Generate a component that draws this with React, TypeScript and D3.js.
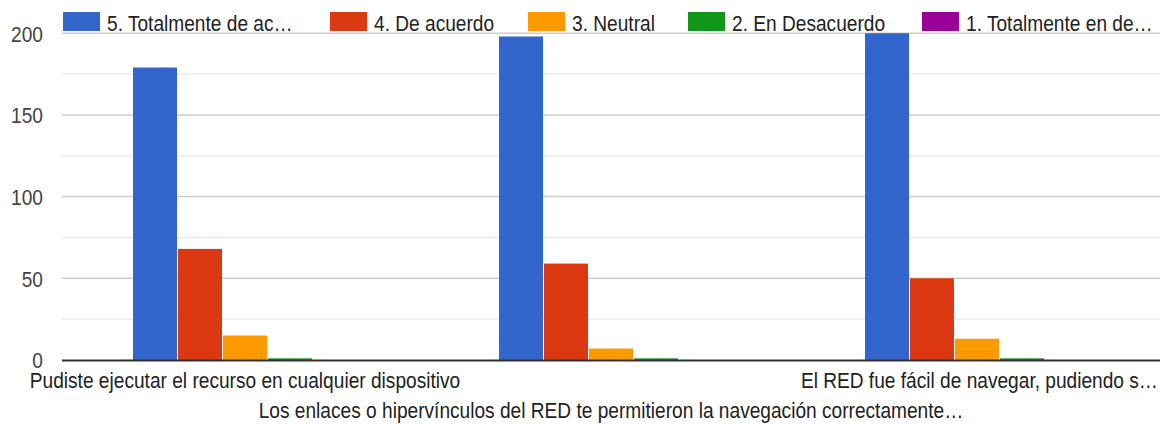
import React from "react";
import * as d3 from "d3";

const categories = [
  "Pudiste ejecutar el recurso en cualquier dispositivo",
  "Los enlaces o hipervínculos del RED te permitieron la navegación correctamente…",
  "El RED fue fácil de navegar, pudiendo s…",
];
const seriesNames = [
  "5. Totalmente de ac…",
  "4. De acuerdo",
  "3. Neutral",
  "2. En Desacuerdo",
  "1. Totalmente en de…",
];
const colors = ["#3366cc", "#dc3912", "#ff9900", "#109618", "#990099"];
const totalmenteDeAcuerdo = [179, 198, 200];
const deAcuerdo = [68, 59, 50];
const neutral = [15, 7, 13];
const enDesacuerdo = [1, 1, 1];
const totalmenteEnDesacuerdo = [0, 0, 0];
const seriesValues = [totalmenteDeAcuerdo, deAcuerdo, neutral, enDesacuerdo, totalmenteEnDesacuerdo];
const yTicks = [0, 50, 100, 150, 200];
const yMinorTicks = [25, 75, 125, 175];

const W = 1164;
const H = 424;
const left = 62;
const right = 1160;
const top = 33.2;
const bottom = 360;
const SX = 0.85;
const FONT = "'Liberation Sans', Arial, sans-serif";
const FS = 22.5;

const legendSwatchX = [63, 330, 528, 688, 922];

function T({ x, y, anchor = "start", fill = "#222", size = FS, children }: any) {
  return (
    <g transform={`translate(${x},${y}) scale(${SX},1)`}>
      <text x={0} y={0} textAnchor={anchor} fill={fill} fontSize={size} fontFamily={FONT}>
        {children}
      </text>
    </g>
  );
}

export default function App() {
  const x0 = d3.scaleBand<number>().domain(d3.range(categories.length)).range([left, right]).padding(0);
  const step = 45;
  const outer = (x0.bandwidth() / step - seriesNames.length) / 2;
  const x1 = d3
    .scaleBand<number>()
    .domain(d3.range(seriesNames.length))
    .range([0, x0.bandwidth()])
    .paddingInner(0)
    .paddingOuter(outer);
  const y = d3.scaleLinear().domain([0, 200]).range([bottom, top]);

  return (
    <svg width={W} height={H} style={{ position: "absolute", left: 0, top: 0, background: "#fff" }}>
      <rect x={0} y={0} width={W} height={H} fill="#fff" />
      {yMinorTicks.map((t) => (
        <line key={"m" + t} x1={left} x2={right} y1={y(t)} y2={y(t)} stroke="#ebebeb" strokeWidth={1.5} />
      ))}
      {yTicks.filter((t) => t > 0).map((t) => (
        <line key={"g" + t} x1={left} x2={right} y1={y(t)} y2={y(t)} stroke="#cccccc" strokeWidth={1.5} />
      ))}
      {yTicks.map((t) => (
        <T key={"t" + t} x={43} y={y(t) + 8.3} anchor="end" fill="#444">
          {t}
        </T>
      ))}
      {categories.map((c, ci) =>
        seriesValues.map((vals, si) => {
          const v = vals[ci];
          if (v <= 0) return null;
          const bx = (x0(ci) as number) + (x1(si) as number);
          return (
            <rect
              key={ci + "-" + si}
              x={bx + 0.5}
              y={y(v)}
              width={x1.bandwidth() - 1}
              height={bottom - y(v)}
              fill={colors[si]}
            />
          );
        })
      )}
      <line x1={left} x2={right} y1={bottom + 0.5} y2={bottom + 0.5} stroke="#333" strokeWidth={2} />
      {seriesNames.map((s, i) => (
        <g key={"l" + i}>
          <rect x={legendSwatchX[i]} y={12} width={37} height={19} fill={colors[i]} />
          <T x={legendSwatchX[i] + 44} y={30.5}>
            {s}
          </T>
        </g>
      ))}
      <T x={(x0(0) as number) + x0.bandwidth() / 2} y={388} anchor="middle">
        {categories[0]}
      </T>
      <T x={(x0(1) as number) + x0.bandwidth() / 2} y={418} anchor="middle">
        {categories[1]}
      </T>
      <T x={1158} y={388} anchor="end">
        {categories[2]}
      </T>
    </svg>
  );
}
